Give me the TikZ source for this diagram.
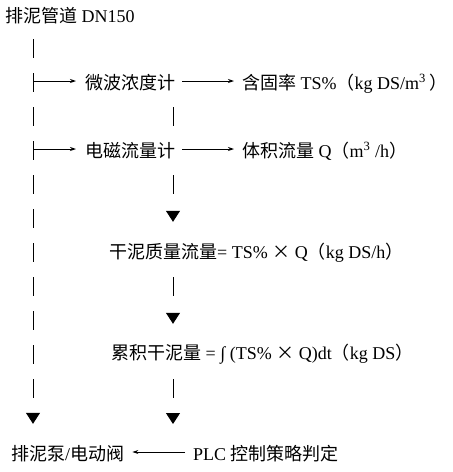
\documentclass[tikz,border=0pt]{standalone}
\usepackage{fontspec}
\setmainfont{Liberation Serif}
\newfontfamily\cjk{Noto Sans CJK SC}
\usetikzlibrary{arrows.meta}
\newcommand{\zh}[1]{{\cjk #1}}
\tikzset{
  lbl/.style={anchor=base west, inner sep=0pt, text height=17pt, text depth=1pt,
    font=\fontsize{18pt}{20pt}\selectfont},
  vbar/.style={line width=1pt, dash pattern=on 19pt off 15pt},
  mbar/.style={line width=1pt, dash pattern=on 19pt off 60pt},
  down/.style={-{Triangle[length=11pt,width=14pt]}},
  side/.style={line width=0.9pt, -{Stealth[length=6pt,width=4pt]}}
}
\begin{document}
\begin{tikzpicture}[x=1pt,y=-1pt]
  \useasboundingbox (0,0) rectangle (453,472);
  % Trunk positions
  \coordinate (lx) at (33,0);
  \coordinate (mx) at (173,0);
  % Texts
  \node[lbl] (pipe) at (5,22) {\zh{排泥管道} DN150};
  \node[lbl] (wave) at (85,89) {\zh{微波浓度计}};
  \node[lbl] (ts) at (242,89) {\zh{含固率} TS\%\zh{（}kg DS/m\textsuperscript{3}\,\zh{）}};
  \node[lbl] (flow) at (85,157) {\zh{电磁流量计}};
  \node[lbl] (vol) at (242,157) {\zh{体积流量} Q\zh{（}m\textsuperscript{3} /h\zh{）}};
  \node[lbl] (mass) at (109,258) {\zh{干泥质量流量}= TS\% \zh{×} Q\zh{（}kg DS/h\zh{）}};
  \node[lbl] (cum) at (111,359) {\zh{累积干泥量} = ∫ (TS\% \zh{×} Q)dt\zh{（}kg DS\zh{）}};
  \node[lbl] (pump) at (11,460) {\zh{排泥泵}/\zh{电动阀}};
  \node[lbl] (plc) at (193,460) {PLC \zh{控制策略判定}};
  \coordinate (join) at (173,424);
  % Left trunk
  \draw[vbar, down, shorten <=16pt, shorten >=19pt] (pipe.south -| lx) -- (pump.north -| lx);
  \draw[side, shorten >=9pt] (lx |- wave.west) -- (wave.west);
  \draw[side, shorten >=9pt] (lx |- flow.west) -- (flow.west);
  % Measured values
  \draw[side, shorten <=7pt, shorten >=8pt] (wave.east) -- (ts.west);
  \draw[side, shorten <=7pt, shorten >=8pt] (flow.east) -- (vol.west);
  % Middle trunk
  \draw[mbar, shorten <=17pt, shorten >=14pt] (wave.south -| mx) -- (flow.north -| mx);
  \draw[mbar, down, shorten <=17pt, shorten >=19pt] (flow.south -| mx) -- (mass.north -| mx);
  \draw[mbar, down, shorten <=18pt, shorten >=18pt] (mass.south -| mx) -- (cum.north -| mx);
  \draw[mbar, down, shorten <=19pt] (cum.south -| mx) -- (join);
  % PLC to pump
  \draw[side, shorten <=8pt, shorten >=8pt] (plc.west) -- (pump.east);
\end{tikzpicture}
\end{document}
